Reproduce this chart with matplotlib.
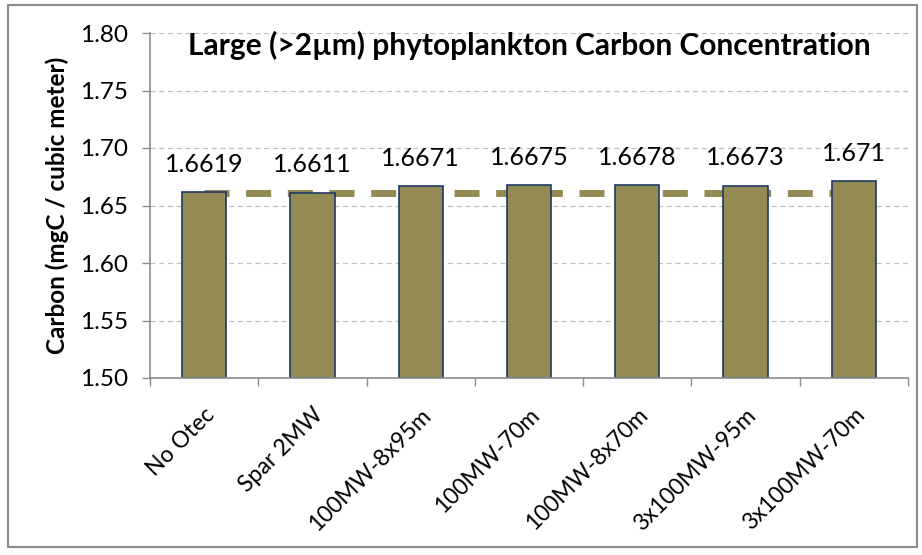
import matplotlib
matplotlib.use("Agg")
import matplotlib.pyplot as plt
from matplotlib.patches import Rectangle

plt.rcParams['font.family'] = ['Lato', 'DejaVu Sans']

categories = ["No Otec", "Spar 2MW", "100MW-8x95m", "100MW-70m",
              "100MW-8x70m", "3x100MW-95m", "3x100MW-70m"]
values = [1.6619, 1.6611, 1.6671, 1.6675, 1.6678, 1.6673, 1.671]
value_labels = ["1.6619", "1.6611", "1.6671", "1.6675", "1.6678", "1.6673", "1.671"]
baseline = 1.661
y_ticks = [1.50, 1.55, 1.60, 1.65, 1.70, 1.75, 1.80]

bar_color = "#948A54"
edge_color = "#1F3864"

fig = plt.figure(figsize=(9.22, 5.55), dpi=100)
fig.patches.append(Rectangle((8 / 922, 1 - 547 / 555), 909 / 922, 542 / 555,
                             transform=fig.transFigure, fill=False,
                             edgecolor="#8c8c8c", linewidth=1.5))

ax = fig.add_axes([150 / 922, 1 - 378 / 555, 758 / 922, 345 / 555])
x = list(range(len(categories)))

ax.plot([x[0], x[-1]], [baseline, baseline], color=bar_color, linewidth=5,
        linestyle=(0, (3.6, 2.4)), zorder=1, solid_capstyle='butt')
ax.bar(x, [v - 1.5 for v in values], bottom=1.5, width=0.41, color=bar_color,
       edgecolor=edge_color, linewidth=1.2, zorder=2)

for xi, v, lab in zip(x, values, value_labels):
    ax.annotate(lab, (xi, v), xytext=(0, 20), textcoords="offset points",
                ha="center", va="center", fontsize=18, color="#000000")

ax.set_xlim(-0.5, len(categories) - 0.5)
ax.set_ylim(1.50, 1.80)
ax.set_yticks(y_ticks)
ax.set_yticklabels([f"{t:.2f}" for t in y_ticks], fontsize=17.5)
ax.yaxis.grid(True, linestyle=(0, (4, 3)), color="#c0c0c0", linewidth=0.9)
ax.set_axisbelow(True)

ax.set_xticks(x)
ax.set_xticklabels(categories, rotation=45, ha="right", rotation_mode="anchor",
                   fontsize=16.5)
ax.set_xticks([i + 0.5 for i in range(-1, len(categories))], minor=True)
ax.tick_params(axis="x", which="major", length=0, pad=19)
ax.tick_params(axis="x", which="minor", length=6, color="#8c8c8c", width=1)
ax.tick_params(axis="y", length=6, color="#8c8c8c", width=1, pad=10)

for side in ("top", "right"):
    ax.spines[side].set_visible(False)
for side in ("left", "bottom"):
    ax.spines[side].set_color("#8c8c8c")
    ax.spines[side].set_linewidth(1.2)

ax.set_ylabel("Carbon (mgC / cubic meter)", fontsize=17.5, fontweight="bold",
              labelpad=8)
ax.text(0.5, 0.965, "Large (>2\u00b5m) phytoplankton Carbon Concentration",
        transform=ax.transAxes, ha="center", va="center", fontsize=21.5,
        fontweight="bold")

fig.savefig("out.png", dpi=100)
